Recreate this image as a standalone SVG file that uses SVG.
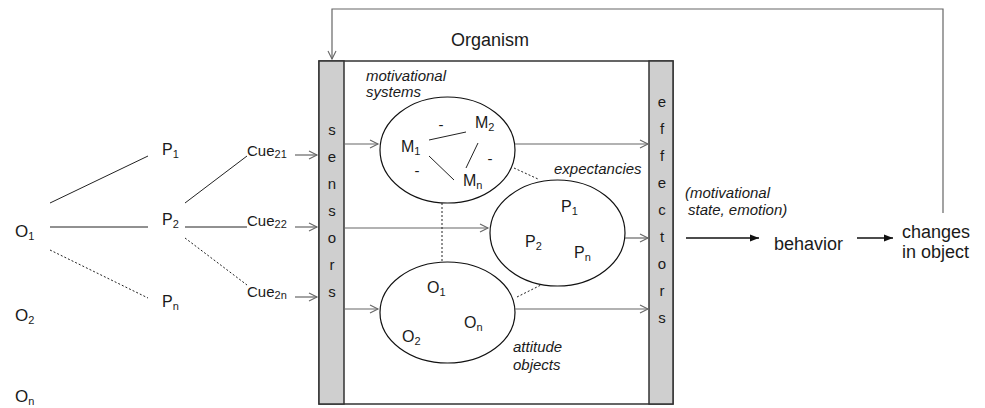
<svg xmlns="http://www.w3.org/2000/svg" width="985" height="408" viewBox="0 0 985 408">
<style>
text{font-family:"Liberation Sans",Arial,sans-serif;fill:#1a1a1a}
.o{font-size:17px}
.p{font-size:16px}
.c{font-size:15px}
.big{font-size:18px}
.it{font-style:italic;font-size:15px}
.sub{font-size:11px}
.bar{font-size:15px;text-anchor:middle}
.ln{stroke:#222;stroke-width:1;fill:none}
.dot{stroke:#222;stroke-width:1;stroke-dasharray:2,2;fill:none}
.ar{stroke:#666;stroke-width:1.2;fill:none;marker-end:url(#open)}
.bk{stroke:#111;stroke-width:1.3;fill:none;marker-end:url(#solid)}
.ell{fill:none;stroke:#111;stroke-width:1.2}
.box{fill:#fff;stroke:#333;stroke-width:1.5}
.gray{fill:#cfcfcf;stroke:#333;stroke-width:1.5}
</style>
<defs>
<marker id="open" markerUnits="userSpaceOnUse" markerWidth="12" markerHeight="12" viewBox="0 0 12 12" refX="10" refY="6" orient="auto">
<path d="M2,2 L10,6 L2,10" fill="none" stroke="#666" stroke-width="1.1"/>
</marker>
<marker id="solid" markerUnits="userSpaceOnUse" markerWidth="12" markerHeight="12" viewBox="0 0 12 12" refX="10" refY="6" orient="auto">
<path d="M1,2.5 L10,6 L1,9.5 Z" fill="#111"/>
</marker>
</defs>

<g id="organism">
<rect class="box" x="319" y="61" width="354" height="343"/>
<text class="big" x="490" y="46" text-anchor="middle">Organism</text>
</g>

<g id="sensors">
<rect class="gray" x="319" y="61" width="25" height="343"/>
<text class="bar" x="332" y="135">s</text>
<text class="bar" x="332" y="162">e</text>
<text class="bar" x="332" y="189">n</text>
<text class="bar" x="332" y="216">s</text>
<text class="bar" x="332" y="243">o</text>
<text class="bar" x="332" y="270">r</text>
<text class="bar" x="332" y="297">s</text>
</g>

<g id="effectors">
<rect class="gray" x="649" y="61" width="24" height="343"/>
<text class="bar" x="662" y="107">e</text>
<text class="bar" x="662" y="134">f</text>
<text class="bar" x="662" y="161">f</text>
<text class="bar" x="662" y="188">e</text>
<text class="bar" x="662" y="215">c</text>
<text class="bar" x="662" y="242">t</text>
<text class="bar" x="662" y="269">o</text>
<text class="bar" x="662" y="296">r</text>
<text class="bar" x="662" y="323">s</text>
</g>

<g id="objects-left">
<text class="o" x="15" y="237">O<tspan class="sub" dy="3">1</tspan></text>
<text class="o" x="15" y="321">O<tspan class="sub" dy="3">2</tspan></text>
<text class="o" x="15" y="402">O<tspan class="sub" dy="3">n</tspan></text>
</g>

<g id="percepts">
<text class="p" x="162" y="155">P<tspan class="sub" dy="3">1</tspan></text>
<text class="p" x="162" y="225">P<tspan class="sub" dy="3">2</tspan></text>
<text class="p" x="162" y="307">P<tspan class="sub" dy="3">n</tspan></text>
</g>

<g id="cues">
<text class="c" x="247" y="156">Cue<tspan class="sub" dy="2">21</tspan></text>
<text class="c" x="247" y="226">Cue<tspan class="sub" dy="2">22</tspan></text>
<text class="c" x="247" y="297">Cue<tspan class="sub" dy="2">2n</tspan></text>
</g>

<g id="motivational-systems">
<ellipse class="ell" cx="447.5" cy="150" rx="67.5" ry="53"/>
<text class="it" x="366" y="81">motivational</text>
<text class="it" x="366" y="97">systems</text>
<text class="p" x="401" y="152">M<tspan class="sub" dy="3">1</tspan></text>
<text class="p" x="475" y="128">M<tspan class="sub" dy="3">2</tspan></text>
<text class="p" x="463" y="186">M<tspan class="sub" dy="3">n</tspan></text>
<line class="ln" x1="429" y1="140" x2="466" y2="132"/>
<line class="ln" x1="478" y1="143" x2="466" y2="168"/>
<line class="ln" x1="429" y1="156" x2="454" y2="180"/>
<text class="c" x="441" y="130" text-anchor="middle">-</text>
<text class="c" x="490" y="164" text-anchor="middle">-</text>
<text class="c" x="417" y="176" text-anchor="middle">-</text>
</g>

<g id="expectancies">
<ellipse class="ell" cx="557.5" cy="233" rx="67.5" ry="53"/>
<text class="it" x="554" y="174">expectancies</text>
<text class="p" x="561" y="212">P<tspan class="sub" dy="3">1</tspan></text>
<text class="p" x="525" y="247">P<tspan class="sub" dy="3">2</tspan></text>
<text class="p" x="574" y="258">P<tspan class="sub" dy="3">n</tspan></text>
</g>

<g id="attitude-objects">
<ellipse class="ell" cx="447.5" cy="312.5" rx="67.5" ry="50.5"/>
<text class="p" x="427" y="293">O<tspan class="sub" dy="3">1</tspan></text>
<text class="p" x="402" y="342">O<tspan class="sub" dy="3">2</tspan></text>
<text class="p" x="464" y="328">O<tspan class="sub" dy="3">n</tspan></text>
<text class="it" x="513" y="352">attitude</text>
<text class="it" x="513" y="370">objects</text>
</g>

<g id="behavior">
<text class="it" x="685" y="198">(motivational</text>
<text class="it" x="688" y="215">state, emotion)</text>
<text class="big" x="774" y="250">behavior</text>
</g>

<g id="changes">
<text class="big" x="902" y="238">changes</text>
<text class="big" x="902" y="258">in object</text>
</g>

<g id="connectors">
<line class="ln" x1="50" y1="203" x2="148" y2="156"/>
<line class="ln" x1="50" y1="227" x2="148" y2="227"/>
<line class="dot" x1="50" y1="250" x2="148" y2="298"/>
<line class="ln" x1="185" y1="203" x2="247" y2="156"/>
<line class="ln" x1="185" y1="227" x2="247" y2="227"/>
<line class="dot" x1="185" y1="238" x2="247" y2="285"/>
<line class="ar" x1="295" y1="155" x2="317" y2="155"/>
<line class="ar" x1="295" y1="227" x2="317" y2="227"/>
<line class="ar" x1="295" y1="297" x2="317" y2="297"/>
<line class="ar" x1="344" y1="144" x2="378" y2="144"/>
<line class="ar" x1="515" y1="144" x2="648" y2="144"/>
<line class="ar" x1="344" y1="228" x2="488" y2="228"/>
<line class="ar" x1="625" y1="238" x2="648" y2="238"/>
<line class="ar" x1="344" y1="309" x2="378" y2="309"/>
<line class="ar" x1="515" y1="309" x2="648" y2="309"/>
<line class="dot" x1="442" y1="203" x2="442" y2="262"/>
<line class="dot" x1="514" y1="168" x2="538" y2="179"/>
<line class="dot" x1="517" y1="297" x2="541" y2="285"/>
<line class="bk" x1="686" y1="238" x2="759" y2="238"/>
<line class="bk" x1="857" y1="238" x2="893" y2="238"/>
<path class="ar" d="M943,213 L943,9 L332,9 L332,59"/>
</g>
</svg>
